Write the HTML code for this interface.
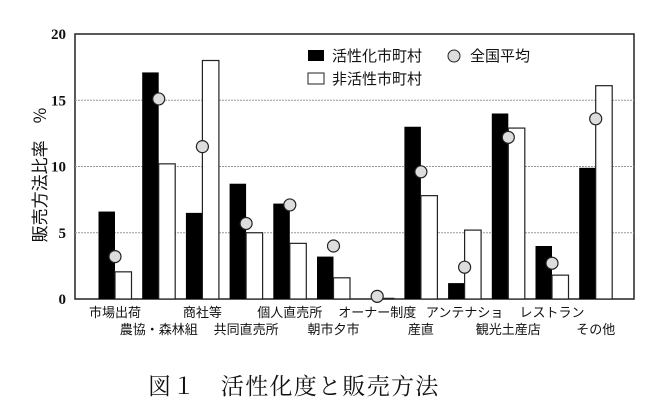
<!DOCTYPE html>
<html><head><meta charset="utf-8"><style>
body{margin:0;background:#fff;}
svg{display:block;font-family:"Liberation Serif","Noto Serif CJK SC","Noto Sans CJK JP",serif;}
</style></head><body>
<svg id="chart" width="664" height="420" xmlns="http://www.w3.org/2000/svg">
<rect x="75" y="34" width="559" height="265" fill="#fff" stroke="#222" stroke-width="1.5"/>
<g id="grid"></g>
<g id="bars"></g>
<g id="labels" font-family="'Noto Sans CJK JP',sans-serif" font-size="13" fill="#111"></g>
<g id="yticks" font-size="15" fill="#111" font-weight="bold"></g>
<text x="46" y="175" transform="rotate(-90 46 175)" text-anchor="middle" font-family="'Noto Sans CJK JP',sans-serif" font-size="17" fill="#111">販売方法比率　%</text>
<g font-family="'Noto Sans CJK JP',sans-serif" font-size="15" fill="#111">
<rect x="308" y="50" width="16" height="11" fill="#000"/>
<text x="332" y="61">活性化市町村</text>
<circle cx="454" cy="56" r="6" fill="#ddd" stroke="#222"/>
<text x="470" y="61">全国平均</text>
<rect x="308" y="73" width="16" height="11" fill="#fff" stroke="#222"/>
<text x="332" y="84">非活性市町村</text>
</g>
<text x="148" y="394" font-family="'Noto Serif CJK SC',serif" font-size="23" letter-spacing="1.3" fill="#111">図１　活性化度と販売方法</text>
</svg>
<script>
const categories=["市場出荷","農協・森林組","商社等","共同直売所","個人直売所","朝市夕市","オーナー制度","産直","アンテナショ","観光土産店","レストラン","その他"];
const activeValues=[6.6,17.1,6.5,8.7,7.2,3.2,0,13.0,1.2,14.0,4.0,9.9];
const inactiveValues=[2.05,10.2,18.0,5.0,4.2,1.6,0.05,7.8,5.2,12.9,1.8,16.1];
const averageValues=[3.2,15.1,11.5,5.7,7.1,4.0,0.2,9.6,2.4,12.2,2.7,13.6];
const yTicks=[0,5,10,15,20];
const NS="http://www.w3.org/2000/svg";
const y=v=>299-v*265/20;
const xc=i=>115+i*43.7;
const bw=16.5;
function mk(tag,attrs,parent){const e=document.createElementNS(NS,tag);for(const k in attrs)e.setAttribute(k,attrs[k]);parent.appendChild(e);return e;}
const grid=document.getElementById('grid'),bars=document.getElementById('bars'),labels=document.getElementById('labels'),yt=document.getElementById('yticks');
yTicks.forEach(t=>{
  if(t>0&&t<20){const l=mk('line',{x1:75,x2:634,y1:y(t),y2:y(t),stroke:'#999','stroke-dasharray':'2,1'},grid);
  
  }
  const tx=mk('text',{x:66,y:y(t)+5,'text-anchor':'end'},yt);tx.textContent=t;
  
  
});
categories.forEach((c,i)=>{
  const b=mk('rect',{x:xc(i)-bw,y:y(activeValues[i]),width:bw,height:299-y(activeValues[i]),fill:'#000'},bars);
  
  
  const w=mk('rect',{x:xc(i),y:y(inactiveValues[i]),width:bw,height:299-y(inactiveValues[i]),fill:'#fff',stroke:'#222','stroke-width':1.2},bars);
  
  
  const d=mk('circle',{cx:xc(i),cy:y(averageValues[i]),r:6,fill:'#ddd',stroke:'#222','stroke-width':1.2},bars);
  
  
  const t=mk('text',{x:xc(i),y:i%2===0?317:334,'text-anchor':'middle'},labels);t.textContent=c;
  
  
});
</script>
</body></html>
